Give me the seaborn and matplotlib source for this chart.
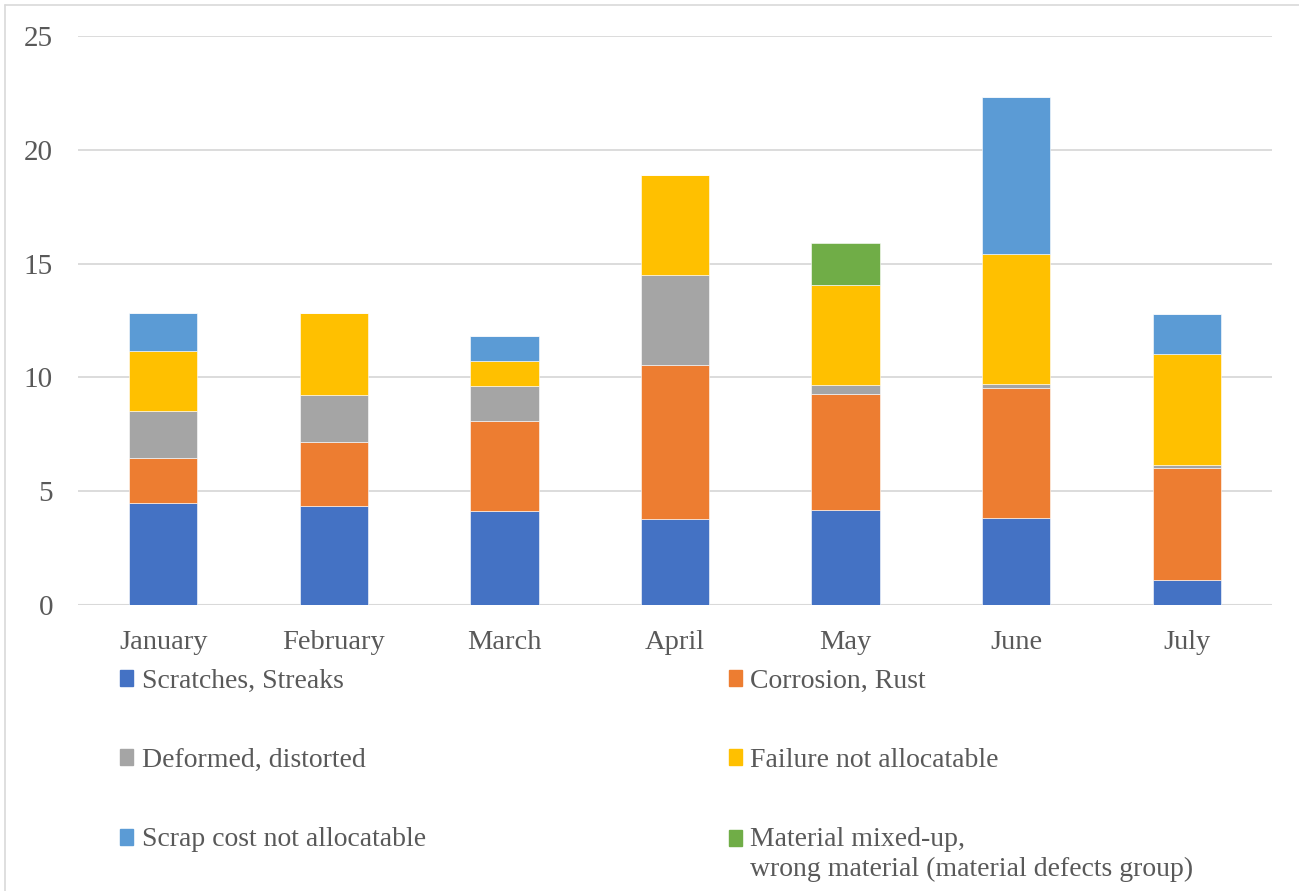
import numpy as np
import pandas as pd
import matplotlib
matplotlib.use("Agg")
import matplotlib.pyplot as plt
import matplotlib.patches as mpatches
from matplotlib.legend_handler import HandlerPatch
import seaborn as sns

# ------------------------------
# Data
# ------------------------------
months = ["January", "February", "March", "April", "May", "June", "July"]

scratches = [4.50, 4.34, 4.15, 3.78, 4.17, 3.83, 1.08]
corrosion = [1.95, 2.81, 3.94, 6.77, 5.10, 5.72, 4.96]
deformed = [2.06, 2.08, 1.55, 3.96, 0.40, 0.17, 0.09]
failure = [2.67, 3.61, 1.10, 4.37, 4.41, 5.70, 4.88]
scrap = [1.67, 0.00, 1.09, 0.00, 0.00, 6.89, 1.79]
material = [0.00, 0.00, 0.00, 0.00, 1.81, 0.00, 0.00]

series_names = [
    "Scratches, Streaks",
    "Corrosion, Rust",
    "Deformed, distorted",
    "Failure not allocatable",
    "Scrap cost not allocatable",
    "Material mixed-up,\nwrong material (material defects group)",
]
series_values = [scratches, corrosion, deformed, failure, scrap, material]
colors = ["#4472C4", "#ED7D31", "#A5A5A5", "#FFC000", "#5B9BD5", "#70AD47"]

df = pd.DataFrame({"month": months})

# ------------------------------
# Plot
# ------------------------------
sns.set_theme(style="white")
plt.rcParams["font.family"] = ["Liberation Serif", "DejaVu Serif"]

fig = plt.figure(figsize=(12.99, 8.91), dpi=100)
ax = fig.add_axes([78 / 1299, 1 - 605 / 891, (1272 - 78) / 1299, (605 - 36) / 891])

bottom = np.zeros(len(months))
handles = []
for name, vals, col in zip(series_names, series_values, colors):
    df["value"] = vals
    sns.barplot(data=df, x="month", y="value", color=col, bottom=bottom,
                width=0.4, edgecolor="white", linewidth=0.4, ax=ax,
                saturation=1)
    bottom = bottom + np.array(vals)
    handles.append(mpatches.Patch(color=col, label=name))

ax.set_ylim(0, 25)
ax.set_xlim(-0.5, len(months) - 0.5)
ax.set_yticks([0, 5, 10, 15, 20, 25])
ax.yaxis.grid(True, color="#D9D9D9", linewidth=1.3)
ax.set_axisbelow(True)
for s in ax.spines.values():
    s.set_visible(False)
ax.axhline(0, color="#D9D9D9", linewidth=1.5, zorder=0.5)
ax.set_xlabel("")
ax.set_ylabel("")
ax.tick_params(axis="y", length=0, pad=18, labelsize=21, labelcolor="#595959")
ax.tick_params(axis="x", length=0, pad=18, labelsize=20.5, labelcolor="#595959")


# the two-line legend entry keeps its square next to the first line
def top_square(legend, orig_handle, xdescent, ydescent, width, height, fontsize):
    return mpatches.Rectangle((-xdescent, -ydescent + 0.6 * fontsize), width, height)


# legend: row-wise order across 2 columns
order = [0, 2, 4, 1, 3, 5]
leg = fig.legend([handles[i] for i in order], [series_names[i] for i in order],
                 loc="upper left", bbox_to_anchor=(109 / 1299, 1 - 658 / 891),
                 ncol=2, frameon=False, fontsize=20, labelcolor="#595959",
                 handlelength=0.48, handleheight=0.5, handletextpad=0.3,
                 labelspacing=1.95, columnspacing=10.9, borderaxespad=0,
                 handler_map={handles[5]: HandlerPatch(patch_func=top_square)})
leg.get_texts()[-1].set_linespacing(1.25)

# outer chart border (only top and left edges fall inside the picture)
fig.add_artist(plt.Line2D([5 / 1299, 5 / 1299], [0, 1 - 5 / 891],
                          transform=fig.transFigure, color="#D9D9D9", linewidth=1.2))
fig.add_artist(plt.Line2D([5 / 1299, 1], [1 - 5 / 891, 1 - 5 / 891],
                          transform=fig.transFigure, color="#D9D9D9", linewidth=1.2))

fig.savefig("out.png", dpi=100)
